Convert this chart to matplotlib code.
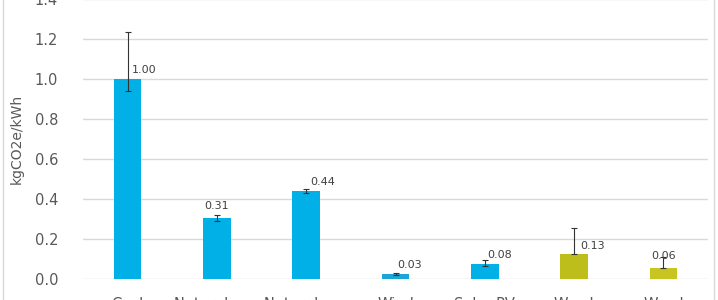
import numpy as np
import matplotlib.pyplot as plt
from matplotlib.patches import Rectangle

categories = ["Coal", "Natural gas", "Natural gas", "Wind", "Solar PV", "Wood", "Wood"]
values = [1.00, 0.305, 0.44, 0.024, 0.075, 0.125, 0.055]
labels = ["1.00", "0.31", "0.44", "0.03", "0.08", "0.13", "0.06"]
err_low = [0.06, 0.015, 0.01, 0.005, 0.01, 0.0, 0.0]
err_high = [0.235, 0.015, 0.01, 0.005, 0.02, 0.13, 0.055]
colors = ["#00B0E6", "#00B0E6", "#00B0E6", "#1AA6D8", "#00B0E6", "#BDBD1C", "#C8C420"]
# label offsets in points (dx, dy), as placed in the original chart
label_dx = [12, 0, 12, 10, 11, 13, 0]
label_dy = [3, 5, 3, 3, 3, 2, 5]

fig = plt.figure(figsize=(7.18, 3.0), dpi=100)
ax = fig.add_axes([83 / 718, 21 / 300, 625 / 718, 280 / 300])

x = np.arange(len(categories))
ax.bar(x, values, width=0.31, color=colors, zorder=2)
ax.errorbar(x, values, yerr=[err_low, err_high], fmt='none', ecolor='#333333',
            elinewidth=0.8, capsize=2.5, capthick=0.8, zorder=3)

for i, lab in enumerate(labels):
    ax.annotate(lab, (x[i], values[i]), xytext=(label_dx[i], label_dy[i]),
                textcoords='offset points', ha='center', va='bottom',
                fontsize=8, color='#404040')

ax.set_xlim(-0.5, len(categories) - 0.5)
ax.set_ylim(0, 1.4)
ax.set_yticks(np.arange(0, 1.41, 0.2))
ax.set_yticklabels([f"{v:.1f}" for v in np.arange(0, 1.41, 0.2)])
ax.set_xticks(x)
ax.set_xticklabels(categories)
ax.tick_params(axis='y', length=0, pad=18, labelsize=10.5, labelcolor='#595959')
ax.tick_params(axis='x', length=0, pad=13, labelsize=10.5, labelcolor='#595959')
ax.yaxis.grid(True, color='#D9D9D9', linewidth=1, zorder=0)
ax.set_axisbelow(True)
for s in ax.spines.values():
    s.set_visible(False)
ax.set_ylabel("kgCO2e/kWh", fontsize=10, color='#595959', labelpad=8)

fig.patches.append(Rectangle((3 / 718, -0.1), 711 / 718, 1.2, transform=fig.transFigure,
                             fill=False, edgecolor='#D9D9D9', linewidth=1))

fig.savefig("out.png", dpi=100)
